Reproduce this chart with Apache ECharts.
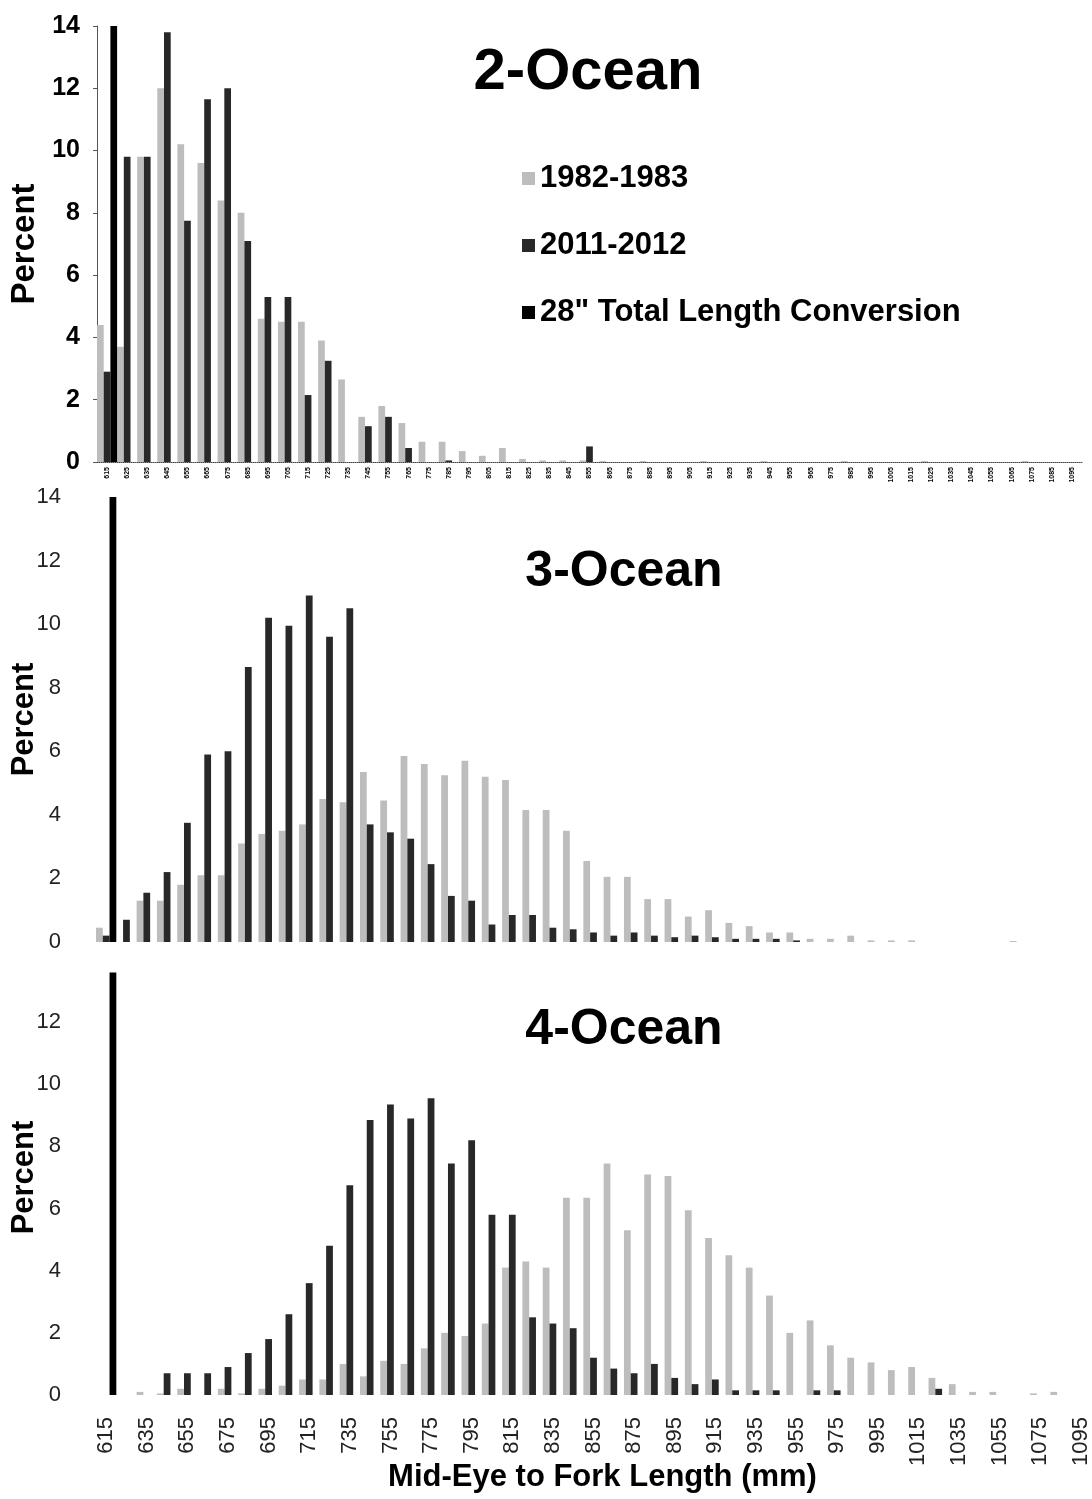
<!DOCTYPE html>
<html>
<head>
<meta charset="utf-8">
<script src="https://cdn.jsdelivr.net/npm/echarts@6/dist/echarts.min.js"></script>
<style>
html,body{margin:0;padding:0;background:#fff;}
#chart{width:1092px;height:1499px;}
</style>
</head>
<body>
<div id="chart"></div>
<script>
// Mid-eye to fork length bins (mm)
const categories = ['615','625','635','645','655','665','675','685','695','705','715','725','735','745','755','765','775','785','795','805','815','825','835','845','855','865','875','885','895','905','915','925','935','945','955','965','975','985','995','1005','1015','1025','1035','1045','1055','1065','1075','1085','1095'];

const seriesNames = ['1982-1983', '2011-2012', '28" Total Length Conversion'];
const panelTitles = ['2-Ocean', '3-Ocean', '4-Ocean'];
const yTicks = [0, 2, 4, 6, 8, 10, 12, 14];

// 2-Ocean
const ocean2_1982 = [4.4, 3.7, 9.8, 12.0, 10.2, 9.6, 8.4, 8.0, 4.6, 4.5, 4.5, 3.9, 2.65, 1.45, 1.8, 1.25, 0.65, 0.65, 0.35, 0.2, 0.45, 0.1, 0.05, 0.05, 0.05, 0.03, 0, 0.03, 0, 0, 0.03, 0, 0, 0.03, 0, 0, 0, 0.03, 0, 0, 0, 0.03, 0, 0, 0, 0, 0.03, 0, 0];
const ocean2_2011 = [2.9, 9.8, 9.8, 13.8, 7.75, 11.65, 12.0, 7.1, 5.3, 5.3, 2.15, 3.25, 0, 1.15, 1.45, 0.45, 0, 0.05, 0, 0, 0, 0, 0, 0, 0.5, 0, 0, 0, 0, 0, 0, 0, 0, 0, 0, 0, 0, 0, 0, 0, 0, 0, 0, 0, 0, 0, 0, 0, 0];
const ocean2_conv = [['615', 14]];

// 3-Ocean
const ocean3_1982 = [0.45, 0, 1.3, 1.3, 1.8, 2.1, 2.1, 3.1, 3.4, 3.5, 3.7, 4.5, 4.4, 5.35, 4.45, 5.85, 5.6, 5.25, 5.7, 5.2, 5.1, 4.15, 4.15, 3.5, 2.55, 2.05, 2.05, 1.35, 1.35, 0.8, 1.0, 0.6, 0.5, 0.3, 0.3, 0.1, 0.1, 0.2, 0.05, 0.05, 0.05, 0, 0, 0, 0, 0.03, 0, 0, 0];
const ocean3_2011 = [0.2, 0.7, 1.55, 2.2, 3.75, 5.9, 6.0, 8.65, 10.2, 9.95, 10.9, 9.6, 10.5, 3.7, 3.45, 3.25, 2.45, 1.45, 1.3, 0.55, 0.85, 0.85, 0.45, 0.4, 0.3, 0.2, 0.3, 0.2, 0.15, 0.2, 0.15, 0.1, 0.1, 0.1, 0.05, 0, 0, 0, 0, 0, 0, 0, 0, 0, 0, 0, 0, 0, 0];
const ocean3_conv = [['615', 14]];

// 4-Ocean
const ocean4_1982 = [0, 0, 0.1, 0.05, 0.2, 0, 0.2, 0.05, 0.2, 0.3, 0.5, 0.5, 1.0, 0.6, 1.1, 1.0, 1.5, 2.0, 1.9, 2.3, 4.1, 4.3, 4.1, 6.35, 6.35, 7.45, 5.3, 7.1, 7.05, 5.95, 5.05, 4.5, 4.1, 3.2, 2.0, 2.4, 1.6, 1.2, 1.05, 0.8, 0.9, 0.55, 0.35, 0.1, 0.1, 0, 0.05, 0.1, 0];
const ocean4_2011 = [0, 0, 0, 0.7, 0.7, 0.7, 0.9, 1.35, 1.8, 2.6, 3.6, 4.8, 6.75, 8.85, 9.35, 8.9, 9.55, 7.45, 8.2, 5.8, 5.8, 2.5, 2.3, 2.15, 1.2, 0.85, 0.7, 1.0, 0.55, 0.35, 0.5, 0.15, 0.15, 0.15, 0, 0.15, 0.15, 0, 0, 0, 0, 0.2, 0, 0, 0, 0, 0, 0, 0];
const ocean4_conv = [['615', 13.6]];

const FONT = "'Liberation Sans', Arial, Helvetica, sans-serif";
const COLORS = ['#bdbdbd', '#282828', '#000000'];

const panels = [
  { d: [ocean2_1982, ocean2_2011, ocean2_conv] },
  { d: [ocean3_1982, ocean3_2011, ocean3_conv] },
  { d: [ocean4_1982, ocean4_2011, ocean4_conv] }
];

const grids = [
  { left: 97, top: 26, width: 985, height: 436, containLabel: false, outerBoundsMode: 'none' },
  { left: 96, top: 497, width: 995, height: 445, containLabel: false, outerBoundsMode: 'none' },
  { left: 96, top: 960, width: 995, height: 435, containLabel: false, outerBoundsMode: 'none' }
];

const xAxes = [
  { type: 'category', gridIndex: 0, data: categories,
    axisLine: { show: true, lineStyle: { color: '#444', type: 'dotted', width: 1 } },
    axisTick: { show: false },
    axisLabel: { interval: 0, rotate: 90, fontSize: 7, fontWeight: 'bold', color: '#000', margin: 5, fontFamily: FONT } },
  { type: 'category', gridIndex: 1, data: categories,
    axisLine: { show: false }, axisTick: { show: false }, axisLabel: { show: false } },
  { type: 'category', gridIndex: 2, data: categories,
    axisLine: { show: false }, axisTick: { show: false },
    axisLabel: { interval: 1, rotate: 90, fontSize: 22, color: '#222', margin: 22, fontFamily: FONT },
    name: 'Mid-Eye to Fork Length (mm)', nameLocation: 'middle', nameGap: 67, nameMoveOverlap: false,
    nameTextStyle: { fontSize: 31, fontWeight: 'bold', color: '#000', fontFamily: FONT, padding: [0, 0, 0, 18] } }
];

function yAxisFor(i) {
  const top = i === 0;
  return {
    type: 'value', gridIndex: i, min: yTicks[0], max: yTicks[yTicks.length - 1], interval: yTicks[1] - yTicks[0],
    splitLine: { show: false },
    axisLine: { show: top, lineStyle: { color: '#555', width: 1 } },
    axisTick: { show: top, length: 4, lineStyle: { color: '#555' } },
    axisLabel: {
      fontSize: top ? 25 : 22, fontWeight: top ? 'bold' : 'normal', color: top ? '#000' : '#222',
      margin: top ? 17 : 35, fontFamily: FONT,
      formatter: function (v) { return (i === 2 && v === 14) ? '' : String(v); }
    },
    name: 'Percent', nameLocation: 'middle', nameGap: 56, nameMoveOverlap: false,
    nameTextStyle: { fontSize: top ? 33 : 31, fontWeight: 'bold', color: '#000', fontFamily: FONT }
  };
}

const series = [];
panels.forEach(function (p, i) {
  p.d.forEach(function (arr, k) {
    series.push({
      name: seriesNames[k], type: 'bar', xAxisIndex: i, yAxisIndex: i,
      data: arr, barGap: '0%', barCategoryGap: '0%',
      itemStyle: { color: COLORS[k] },
      silent: true, animation: false
    });
  });
});

const titleTops = [39, 542, 1000];
const titleLefts = [583, 619, 619];
const titleSizes = [58, 50, 50];

const option = {
  backgroundColor: '#ffffff',
  animation: false,
  textStyle: { fontFamily: FONT },
  title: panelTitles.map(function (t, i) {
    return { text: t, left: titleLefts[i], top: titleTops[i], textAlign: 'center',
      textStyle: { fontSize: titleSizes[i], fontWeight: 'bold', color: '#000', fontFamily: FONT } };
  }),
  legend: {
    data: seriesNames, orient: 'vertical', left: 517, top: 158,
    itemWidth: 13, itemHeight: 13, itemGap: 36, icon: 'rect',
    textStyle: { fontSize: 31, fontWeight: 'bold', color: '#000', fontFamily: FONT }
  },
  grid: grids,
  xAxis: xAxes,
  yAxis: [yAxisFor(0), yAxisFor(1), yAxisFor(2)],
  series: series
};

const chart = echarts.init(document.getElementById('chart'), null, { renderer: 'canvas' });
chart.setOption(option);
</script>
</body>
</html>
